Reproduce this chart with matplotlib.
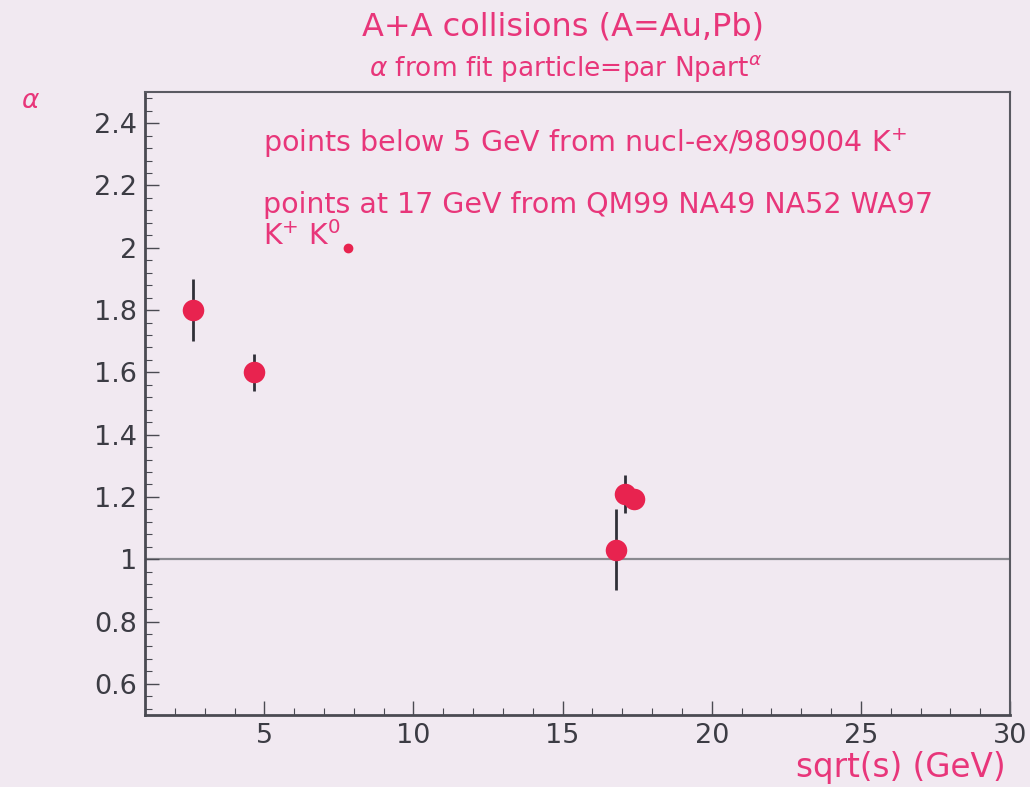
import matplotlib
matplotlib.use("Agg")
import matplotlib.pyplot as plt
from matplotlib.ticker import MultipleLocator

# sqrt(s) in GeV, fitted alpha and its uncertainty
sqrt_s = [2.6, 4.65, 16.8, 17.1, 17.4]
alpha = [1.80, 1.60, 1.03, 1.21, 1.195]
alpha_err = [0.10, 0.06, 0.13, 0.06, 0.03]

x_ticks = [5, 10, 15, 20, 25, 30]
y_ticks = [0.6, 0.8, 1.0, 1.2, 1.4, 1.6, 1.8, 2.0, 2.2, 2.4]
y_tick_labels = ["0.6", "0.8", "1", "1.2", "1.4", "1.6", "1.8", "2", "2.2", "2.4"]

PINK = "#e8367a"
MARKER = "#e8234f"
BG = "#f1e9f1"
AXCOL = "#4a4a52"

plt.rcParams["font.family"] = ["DejaVu Sans"]
plt.rcParams["mathtext.fontset"] = "dejavusans"

fig = plt.figure(figsize=(10.30, 7.87), dpi=100, facecolor=BG)
ax = fig.add_axes([0.1408, 0.0915, 0.8398, 0.7916], facecolor=BG)

ax.set_xlim(1, 30)
ax.set_ylim(0.5, 2.5)

# reference line at alpha = 1
ax.axhline(1.0, color="#8a8a90", lw=1.6, zorder=1)

ax.errorbar(sqrt_s, alpha, yerr=alpha_err, fmt="o", color=MARKER,
            ecolor="#303038", elinewidth=2.0, capsize=0,
            markersize=15.5, markeredgewidth=0, zorder=3)

ax.set_xticks(x_ticks)
ax.set_yticks(y_ticks)
ax.set_yticklabels(y_tick_labels)
ax.xaxis.set_minor_locator(MultipleLocator(1))
ax.yaxis.set_minor_locator(MultipleLocator(0.04))
ax.tick_params(axis="both", which="major", direction="in", length=10,
               width=1.0, color=AXCOL, labelsize=19.5, labelcolor="#3c3c44",
               top=False, right=False)
ax.tick_params(axis="both", which="minor", direction="in", length=5,
               width=0.8, color=AXCOL, top=False, right=False)
ax.tick_params(axis="x", pad=5.5)
ax.tick_params(axis="y", pad=5.5)

for side in ["left", "bottom"]:
    ax.spines[side].set_color(AXCOL)
    ax.spines[side].set_linewidth(2.0)
for side in ["top", "right"]:
    ax.spines[side].set_color("#5a5a62")
    ax.spines[side].set_linewidth(1.5)

# titles
fig.text(0.547, 0.9555, "A+A collisions (A=Au,Pb)", color=PINK,
         fontsize=23, ha="center", va="baseline")
fig.text(0.549, 0.9035, r"$\alpha$ from fit particle=par Npart$^{\alpha}$",
         color=PINK, fontsize=19, ha="center", va="baseline")

# axis labels
fig.text(0.030, 0.872, r"$\alpha$", color=PINK, fontsize=19,
         ha="center", va="center")
fig.text(0.976, 0.0127, "sqrt(s) (GeV)", color=PINK, fontsize=23.5,
         ha="right", va="baseline")

# notes inside the frame
ax.text(4.95, 2.306, r"points below 5 GeV from nucl-ex/9809004 K$^{+}$",
        color=PINK, fontsize=20.5, ha="left", va="baseline")
ax.text(4.95, 2.113, "points at 17 GeV from QM99 NA49 NA52 WA97",
        color=PINK, fontsize=20.5, ha="left", va="baseline")
ax.text(4.95, 2.010, r"K$^{+}$ K$^{0}$", color=PINK, fontsize=20.5,
        ha="left", va="baseline")
ax.plot([7.8], [2.0], "o", color=MARKER, markersize=6, zorder=3)

fig.savefig("out.png", dpi=100, facecolor=BG)
